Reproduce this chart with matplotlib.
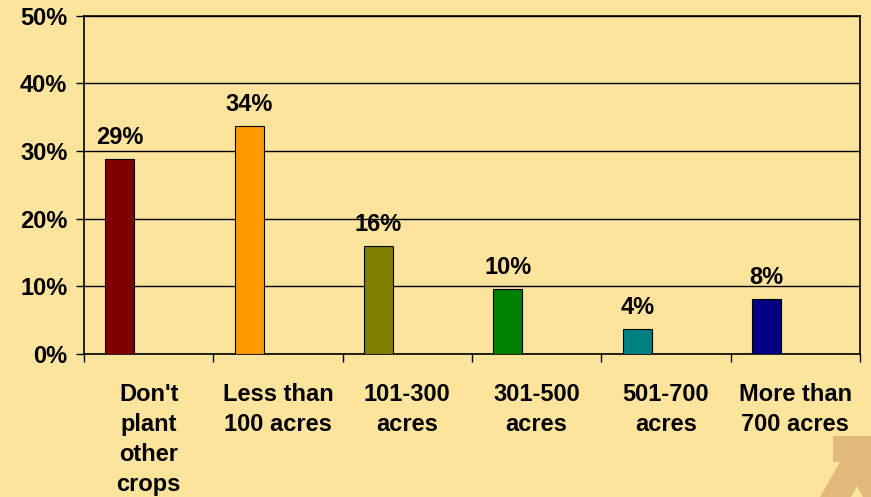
import matplotlib
matplotlib.use("Agg")
import matplotlib.pyplot as plt
from matplotlib.patches import Polygon
import numpy as np

# farm size groups and share of respondents (percent)
categories = ["Don't\nplant\nother\ncrops", "Less than\n100 acres", "101-300\nacres",
              "301-500\nacres", "501-700\nacres", "More than\n700 acres"]
shares = [28.8, 33.7, 16.0, 9.6, 3.7, 8.1]
bar_colors = ["#800000", "#FF9900", "#808000", "#008000", "#008080", "#000080"]
yticks = [0, 10, 20, 30, 40, 50]

bg = "#FDE49C"
plt.rcParams['font.family'] = ['Liberation Sans', 'DejaVu Sans']
plt.rcParams['font.weight'] = 'bold'
fs = 17

fig = plt.figure(figsize=(8.71, 4.97), dpi=100, facecolor=bg)
ax = fig.add_axes([0.0964, 0.2877, 0.891, 0.6811])
ax.set_facecolor(bg)

x = np.arange(len(categories))
# bars sit in the left half of each slot
bars = ax.bar(x - 0.222, shares, width=0.224, color=bar_colors,
              edgecolor="black", linewidth=0.8, zorder=3)

for b, v in zip(bars, shares):
    ax.annotate("%d%%" % round(v), (b.get_x() + b.get_width() / 2, v),
                xytext=(0, 7), textcoords="offset points",
                ha="center", va="bottom", fontsize=fs, fontweight="bold")

ax.set_xlim(-0.5, len(categories) - 0.5)
ax.set_ylim(0, 50)
ax.set_yticks(yticks)
ax.set_yticklabels(["%d%%" % t for t in yticks])
ax.grid(axis="y", color="black", linewidth=1, zorder=1)

ax.set_xticks(x)
ax.set_xticklabels(categories, linespacing=1.38)
ax.set_xticks(np.arange(len(categories) + 1) - 0.5, minor=True)
ax.tick_params(axis="x", which="major", length=0, pad=21, labelsize=fs)
ax.tick_params(axis="x", which="minor", length=6, width=1, color="black", direction="out")
ax.tick_params(axis="y", length=6, width=1, pad=6, labelsize=fs)
for lab in ax.get_xticklabels() + ax.get_yticklabels():
    lab.set_fontweight("bold")

for s in ax.spines.values():
    s.set_color("black")
    s.set_linewidth(1.2)

# corner logo
W, H = 871, 497
pts = [(833, 436), (871, 436), (871, 497), (820, 497), (840, 462), (833, 462)]
fig.patches.append(Polygon([(px / W, 1 - py / H) for px, py in pts], closed=True,
                           transform=fig.transFigure, facecolor="#E2B87C", edgecolor="none"))
tri = [(851, 497), (857, 486), (863, 497)]
fig.patches.append(Polygon([(px / W, 1 - py / H) for px, py in tri], closed=True,
                           transform=fig.transFigure, facecolor=bg, edgecolor="none"))

fig.savefig("out.png", dpi=100, facecolor=bg)
